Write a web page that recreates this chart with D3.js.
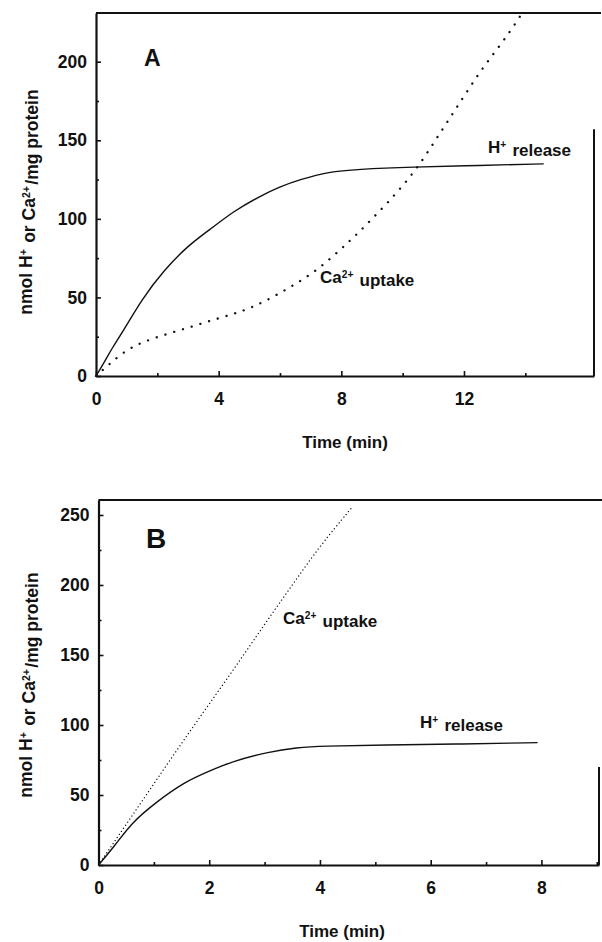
<!DOCTYPE html>
<html>
<head>
<meta charset="utf-8">
<script src="https://cdn.jsdelivr.net/npm/d3@7"></script>
<style>
  body { margin: 0; background: #fff; }
  svg { display: block; }
  text { font-family: "Liberation Sans", Arial, Helvetica, sans-serif; font-weight: bold; fill: #111; }
</style>
</head>
<body>
<svg id="chart" width="602" height="942"></svg>
<script>
// panel A: time (min) vs nmol / mg protein
var hReleaseA = [[0,0],[0.25,8],[0.5,17],[0.9,29],[1.5,49],[2.2,67],[3,83],[3.7,93],[4.5,105],[5.3,114],[6,120.5],[6.65,125],[7.6,130],[8.5,131.5],[10.3,133],[12.5,134],[14.6,135]];
var caUptakeA = [[0,0],[0.46,8],[1.1,18.5],[2,25],[3.07,31],[3.94,36.5],[4.7,40.6],[5.47,47],[6.34,56.5],[7.2,67],[8,81],[8.5,90],[9,100],[9.5,110],[10,121],[10.5,133],[11,148],[11.5,163],[12,178],[12.5,193],[13,206],[13.5,219],[13.9,231]];
var xTicksA = [0, 4, 8, 12];
var xMinorA = [2, 6, 10, 14];
var yTicksA = [0, 50, 100, 150, 200];
var yMinorA = [25, 75, 125, 175];

// panel B
var hReleaseB = [[0,0],[0.3,14],[0.59,29.8],[1.01,44],[1.56,59.5],[1.98,66.7],[2.4,73.8],[3.09,81],[3.58,83.8],[4.03,85],[5.17,85.7],[6.56,86.4],[7.93,87.4]];
var caUptakeB = [[0,0],[0.5,29],[1,58],[1.5,87],[2,115],[2.5,143],[3,172],[3.5,200],[4,228],[4.57,255]];
var xTicksB = [0, 2, 4, 6, 8];
var xMinorB = [1, 3, 5, 7, 9];
var yTicksB = [0, 50, 100, 150, 200, 250];
var yMinorB = [25, 75, 125, 175, 225];

var svg = d3.select("#chart");

function superText(sel, parts) {
    parts.forEach(function(p) {
        if (p.sup) {
            sel.append("tspan").attr("dy", "-0.45em").attr("font-size", "0.6em").text(p.t);
            sel.append("tspan").attr("dy", "0.45em").text("\u200a");
        } else {
            sel.append("tspan").text(p.t);
        }
    });
}

function drawPanel(cfg) {
    var x = d3.scaleLinear().domain(cfg.xDomain).range(cfg.xRange);
    var y = d3.scaleLinear().domain(cfg.yDomain).range(cfg.yRange);
    var g = svg.append("g");

    // minor ticks first
    g.append("g")
        .attr("transform", "translate(" + cfg.xRange[0] + ",0)")
        .call(d3.axisLeft(y).tickValues(cfg.yMinor).tickFormat("").tickSizeInner(-3).tickSizeOuter(0))
        .call(function(a) { a.select(".domain").remove(); });
    g.append("g")
        .attr("transform", "translate(0," + cfg.yRange[0] + ")")
        .call(d3.axisBottom(x).tickValues(cfg.xMinor).tickFormat("").tickSizeInner(-3).tickSizeOuter(0))
        .call(function(a) { a.select(".domain").remove(); });

    g.append("g")
        .attr("transform", "translate(" + cfg.xRange[0] + ",0)")
        .call(d3.axisLeft(y).tickValues(cfg.yTicks).tickSizeInner(-5).tickSizeOuter(0).tickPadding(9));
    g.append("g")
        .attr("transform", "translate(0," + cfg.yRange[0] + ")")
        .call(d3.axisBottom(x).tickValues(cfg.xTicks).tickSizeInner(-5).tickSizeOuter(0).tickPadding(17));

    g.selectAll(".tick line").attr("stroke", "#111").attr("stroke-width", 1.6);
    g.selectAll(".domain").attr("stroke", "#111").attr("stroke-width", 2.2);
    g.selectAll(".tick text").attr("font-size", 17.5).style("font-family", "Liberation Sans, Arial, sans-serif").style("font-weight", "bold").attr("fill", "#111");

    // top border and (partly faded) right border
    g.append("line")
        .attr("x1", cfg.xRange[0]).attr("x2", cfg.topEnd)
        .attr("y1", cfg.yRange[1]).attr("y2", cfg.yRange[1])
        .attr("stroke", "#111").attr("stroke-width", 2.2);
    g.append("line")
        .attr("x1", cfg.xRange[1]).attr("x2", cfg.xRange[1])
        .attr("y1", y(cfg.rightFrom)).attr("y2", cfg.yRange[0])
        .attr("stroke", "#111").attr("stroke-width", 2);

    var line = d3.line()
        .x(function(d) { return x(d[0]); })
        .y(function(d) { return y(d[1]); })
        .curve(d3.curveBasis);

    g.append("path").datum(cfg.hRelease)
        .attr("d", line)
        .attr("fill", "none").attr("stroke", "#111").attr("stroke-width", 1.4);
    g.append("path").datum(cfg.caUptake)
        .attr("d", line)
        .attr("fill", "none").attr("stroke", "#111")
        .attr("stroke-width", cfg.dotWidth)
        .attr("stroke-linecap", "round")
        .attr("stroke-dasharray", cfg.dash);

    // panel letter
    g.append("text")
        .attr("x", cfg.letterPos[0]).attr("y", cfg.letterPos[1])
        .attr("font-size", cfg.letterSize).style("font-weight", "600")
        .text(cfg.letter);

    // curve labels
    var ca = g.append("text").attr("x", cfg.caPos[0]).attr("y", cfg.caPos[1]).attr("font-size", 17);
    superText(ca, [{t: "Ca"}, {t: "2+", sup: true}, {t: " uptake"}]);
    var h = g.append("text").attr("x", cfg.hPos[0]).attr("y", cfg.hPos[1]).attr("font-size", 17);
    superText(h, [{t: "H"}, {t: "+", sup: true}, {t: " release"}]);

    // axis titles
    g.append("text")
        .attr("x", cfg.xTitle[0]).attr("y", cfg.xTitle[1])
        .attr("text-anchor", "middle").attr("font-size", 17)
        .text("Time (min)");
    var yt = g.append("text")
        .attr("transform", "translate(" + cfg.yTitle[0] + "," + cfg.yTitle[1] + ") rotate(-90)")
        .attr("text-anchor", "middle").attr("font-size", 17.5);
    superText(yt, [{t: "nmol H"}, {t: "+", sup: true}, {t: " or Ca"}, {t: "2+", sup: true}, {t: "/mg protein"}]);
}

drawPanel({
    xDomain: [0, 16.24], xRange: [96, 594],
    yDomain: [0, 231], yRange: [376, 13],
    xTicks: xTicksA, xMinor: xMinorA, yTicks: yTicksA, yMinor: yMinorA,
    hRelease: hReleaseA, caUptake: caUptakeA,
    dash: "0.1,9", dotWidth: 2.3,
    topEnd: 601, rightFrom: 157,
    letter: "A", letterPos: [144, 66], letterSize: 23,
    caPos: [320, 283], hPos: [488, 153],
    xTitle: [345, 448], yTitle: [32, 202]
});

drawPanel({
    xDomain: [0, 9.04], xRange: [98.5, 599],
    yDomain: [0, 260.7], yRange: [865, 500],
    xTicks: xTicksB, xMinor: xMinorB, yTicks: yTicksB, yMinor: yMinorB,
    hRelease: hReleaseB, caUptake: caUptakeB,
    dash: "0.1,3.6", dotWidth: 1.3,
    topEnd: 602, rightFrom: 70,
    letter: "B", letterPos: [146, 548], letterSize: 28,
    caPos: [283, 624], hPos: [420, 728],
    xTitle: [342, 937], yTitle: [32, 685]
});
</script>
</body>
</html>
